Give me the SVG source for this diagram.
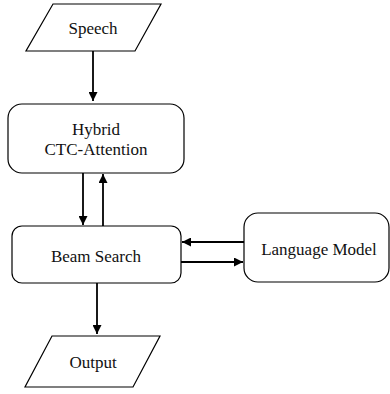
<svg xmlns="http://www.w3.org/2000/svg" width="390" height="394" viewBox="0 0 390 394">
<style>
.shape{fill:#fff;stroke:#000;stroke-width:1.2}
.lbl{font-family:"Liberation Serif",serif;font-size:17px;fill:#111;text-anchor:middle}
.conn{stroke:#000;stroke-width:1.8;fill:none}
</style>
<defs>
<marker id="ah" viewBox="0 0 10 10" refX="10" refY="5" markerWidth="5" markerHeight="5" orient="auto" markerUnits="strokeWidth">
<path d="M0,0 L10,5 L0,10 z" fill="#000"/>
</marker>
</defs>
<rect width="390" height="394" fill="#fff"/>
<g id="connectors">
<line class="conn" x1="93" y1="51" x2="93" y2="101" marker-end="url(#ah)"/>
<line class="conn" x1="83" y1="173" x2="83" y2="225" marker-end="url(#ah)"/>
<line class="conn" x1="103" y1="226" x2="103" y2="174" marker-end="url(#ah)"/>
<line class="conn" x1="244" y1="242" x2="182" y2="242" marker-end="url(#ah)"/>
<line class="conn" x1="181" y1="262" x2="243" y2="262" marker-end="url(#ah)"/>
<line class="conn" x1="97" y1="283" x2="97" y2="334" marker-end="url(#ah)"/>
</g>
<g id="speech">
<polygon class="shape" points="53,4 161,4 135,51 26,51"/>
<text class="lbl" x="93" y="34">Speech</text>
</g>
<g id="hybrid">
<rect class="shape" x="8" y="104" width="176" height="69" rx="14"/>
<text class="lbl" x="96" y="135">Hybrid</text>
<text class="lbl" x="96" y="155">CTC-Attention</text>
</g>
<g id="beam">
<rect class="shape" x="12" y="226" width="169" height="57" rx="10"/>
<text class="lbl" x="96" y="262">Beam Search</text>
</g>
<g id="lm">
<rect class="shape" x="244" y="213" width="145" height="69" rx="14"/>
<text class="lbl" x="319" y="255">Language Model</text>
</g>
<g id="output">
<polygon class="shape" points="52,336 160,336 133,387 25,387"/>
<text class="lbl" x="93" y="368">Output</text>
</g>
</svg>
